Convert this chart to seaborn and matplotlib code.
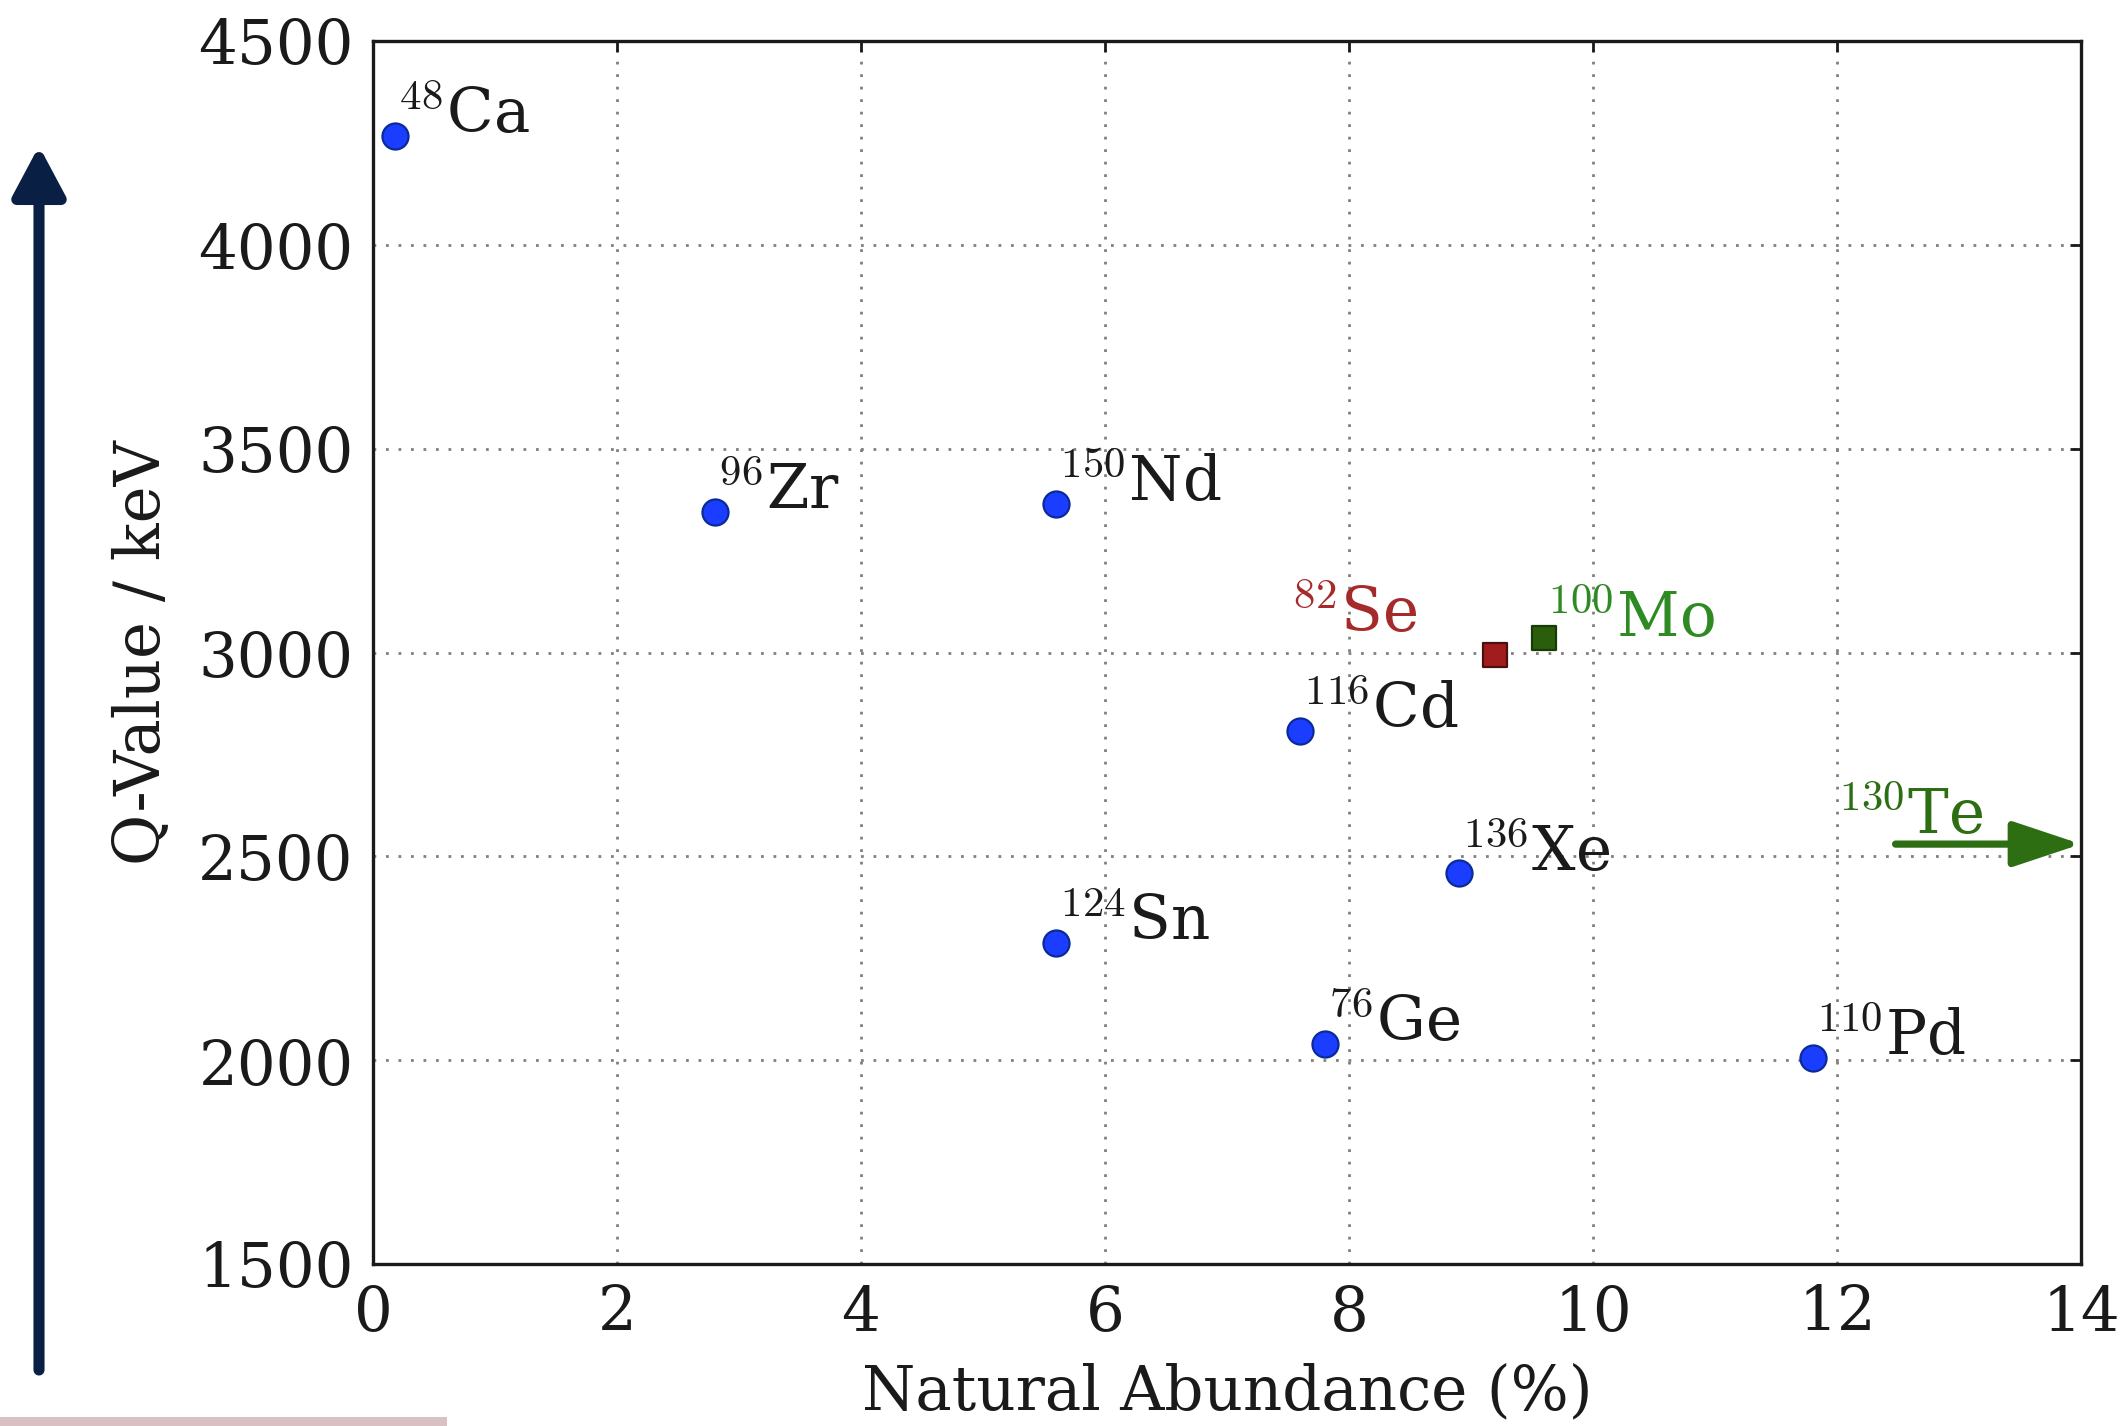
import matplotlib
matplotlib.use("Agg")
import matplotlib.pyplot as plt
from matplotlib.patches import FancyArrowPatch, Rectangle
import seaborn as sns
import pandas as pd

# ---------------- data ----------------
mass_numbers = ["48", "96", "150", "116", "136", "124", "76", "110"]
elements = ["Ca", "Zr", "Nd", "Cd", "Xe", "Sn", "Ge", "Pd"]
abundance = [0.18, 2.8, 5.6, 7.6, 8.9, 5.6, 7.8, 11.8]
q_value = [4267, 3345, 3365, 2808, 2458, 2288, 2039, 2006]

se_abundance = [9.2]
se_q = [2995]
mo_abundance = [9.6]
mo_q = [3035]

te_q = 2530          # 130Te, abundance off-scale (34 %)
te_arrow_start = 12.48

x_ticks = [0, 2, 4, 6, 8, 10, 12, 14]
y_ticks = [1500, 2000, 2500, 3000, 3500, 4000, 4500]

df = pd.DataFrame({"abundance": abundance, "q": q_value,
                   "mass": mass_numbers, "el": elements})
df_se = pd.DataFrame({"abundance": se_abundance, "q": se_q})
df_mo = pd.DataFrame({"abundance": mo_abundance, "q": mo_q})

# ---------------- style ----------------
sns.set_style("white")
plt.rcParams["font.family"] = ["DejaVu Serif"]
plt.rcParams["mathtext.fontset"] = "cm"

W, H = 2126, 1426
fig = plt.figure(figsize=(W / 200, H / 200), dpi=200)
ax = fig.add_axes([373 / W, 1 - 1264 / H, (2081 - 373) / W, (1264 - 41) / H])

blue = "#1a3dff"
sns.scatterplot(data=df, x="abundance", y="q", ax=ax, color=blue,
                s=88, edgecolor="#0b2a9a", linewidth=0.8, zorder=3)
sns.scatterplot(data=df_se, x="abundance", y="q", ax=ax, color="#a11d1d",
                marker="s", s=80, edgecolor="#4a1010", linewidth=0.8, zorder=3)
sns.scatterplot(data=df_mo, x="abundance", y="q", ax=ax, color="#2b5e0c",
                marker="s", s=80, edgecolor="#1a3a08", linewidth=0.8, zorder=3)

lab_fs = 22
for _, r in df.iterrows():
    ax.annotate("$^{%s}$%s" % (r["mass"], r["el"]), (r["abundance"], r["q"]),
                xytext=(0.8, 1), textcoords="offset points",
                ha="left", va="baseline", fontsize=lab_fs, color="#1a1a1a")

ax.annotate("$^{82}$Se", (se_abundance[0], se_q[0]), xytext=(-28, 8),
            textcoords="offset points", ha="right", va="baseline",
            fontsize=lab_fs, color="#a52a2a")
ax.annotate("$^{100}$Mo", (mo_abundance[0], mo_q[0]), xytext=(0.8, 0.5),
            textcoords="offset points", ha="left", va="baseline",
            fontsize=lab_fs, color="#2e8a22")

te_col = "#2d6e12"
ax.annotate("", xy=(14, te_q), xytext=(te_arrow_start, te_q),
            arrowprops=dict(arrowstyle="-|>,head_length=21,head_width=7",
                            mutation_scale=1, lw=2.6, color=te_col,
                            shrinkA=0, shrinkB=0),
            annotation_clip=False, zorder=4)
ax.annotate("$^{130}$Te", (te_arrow_start, te_q), xytext=(-21, 3.5),
            textcoords="offset points", ha="left", va="baseline",
            fontsize=lab_fs, color=te_col)

ax.set_xlim(0, 14)
ax.set_ylim(1500, 4500)
ax.set_xticks(x_ticks)
ax.set_yticks(y_ticks)
ax.set_xlabel("Natural Abundance (%)", fontsize=22, labelpad=7, color="#1a1a1a")
ax.set_ylabel("Q-Value / keV", fontsize=22.5, labelpad=9, color="#1a1a1a")
ax.tick_params(direction="in", top=True, right=True, length=4, width=1,
               labelsize=22, pad=7, colors="#1a1a1a")
ax.grid(True, linestyle=(0, (1, 3.5)), color="0.5", linewidth=1.0)
for s in ax.spines.values():
    s.set_linewidth(1.2)
    s.set_color("#1a1a1a")

# decorative figure elements
arrow = FancyArrowPatch((39 / W, 1 - 1370 / H), (39 / W, 1 - 146 / H),
                        transform=fig.transFigure,
                        arrowstyle="-|>,head_length=15,head_width=8",
                        mutation_scale=1, lw=4, color="#0a1f44",
                        shrinkA=0, shrinkB=0)
fig.patches.append(arrow)
fig.patches.append(Rectangle((0, 0), 447 / W, 9 / H, transform=fig.transFigure,
                             color="#d9c0c3", lw=0))

fig.savefig("out.png", dpi=200)
